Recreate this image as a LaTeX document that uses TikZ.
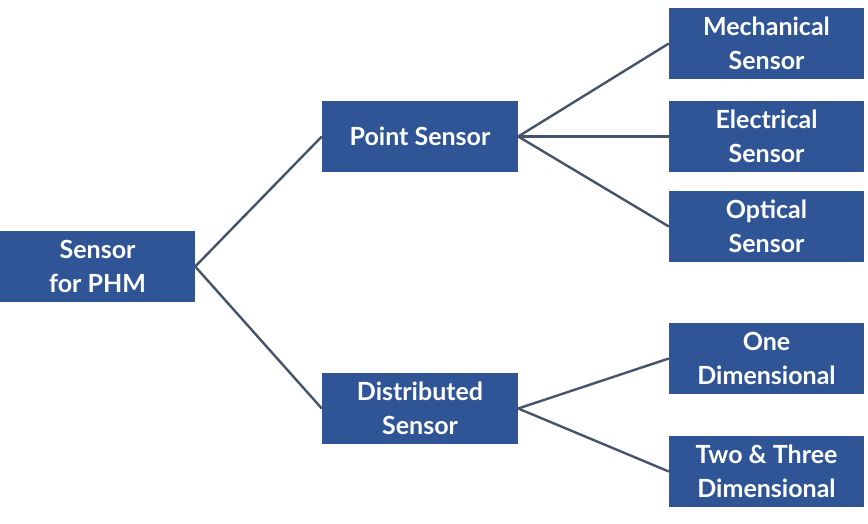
\documentclass[tikz,border=0pt]{standalone}
\usepackage{fontspec}
\setmainfont{Lato}
\definecolor{boxblue}{HTML}{2F5597}
\definecolor{linegray}{HTML}{44546A}
\begin{document}
\begin{tikzpicture}[x=1pt,y=-1pt,
  box/.style={fill=boxblue,text=white,minimum width=195pt,minimum height=71pt,inner sep=0pt,align=center,font=\fontsize{25}{34}\selectfont\bfseries},
  conn/.style={draw=linegray,line width=2.4pt}]
\useasboundingbox (0,0) rectangle (868,524);
\node[box,minimum width=195pt] (root) at (97.5,266.5) {Sensor\\for PHM};
\node[box,minimum width=196pt] (point) at (420,136.5) {Point Sensor};
\node[box,minimum width=196pt] (dist) at (420,408.5) {Distributed\\Sensor};
\node[box] (mech) at (766.5,43.5) {Mechanical\\Sensor};
\node[box] (elec) at (766.5,136.5) {Electrical\\Sensor};
\node[box] (opt) at (766.5,226.5) {Optical\\Sensor};
\node[box] (one) at (766.5,358.5) {One\\Dimensional};
\node[box] (two) at (766.5,471.5) {Two \& Three\\Dimensional};
\draw[conn] (root.east) -- (point.west);
\draw[conn] (root.east) -- (dist.west);
\draw[conn] (point.east) -- (mech.west);
\draw[conn] (point.east) -- (elec.west);
\draw[conn] (point.east) -- (opt.west);
\draw[conn] (dist.east) -- (one.west);
\draw[conn] (dist.east) -- (two.west);
\end{tikzpicture}
\end{document}
